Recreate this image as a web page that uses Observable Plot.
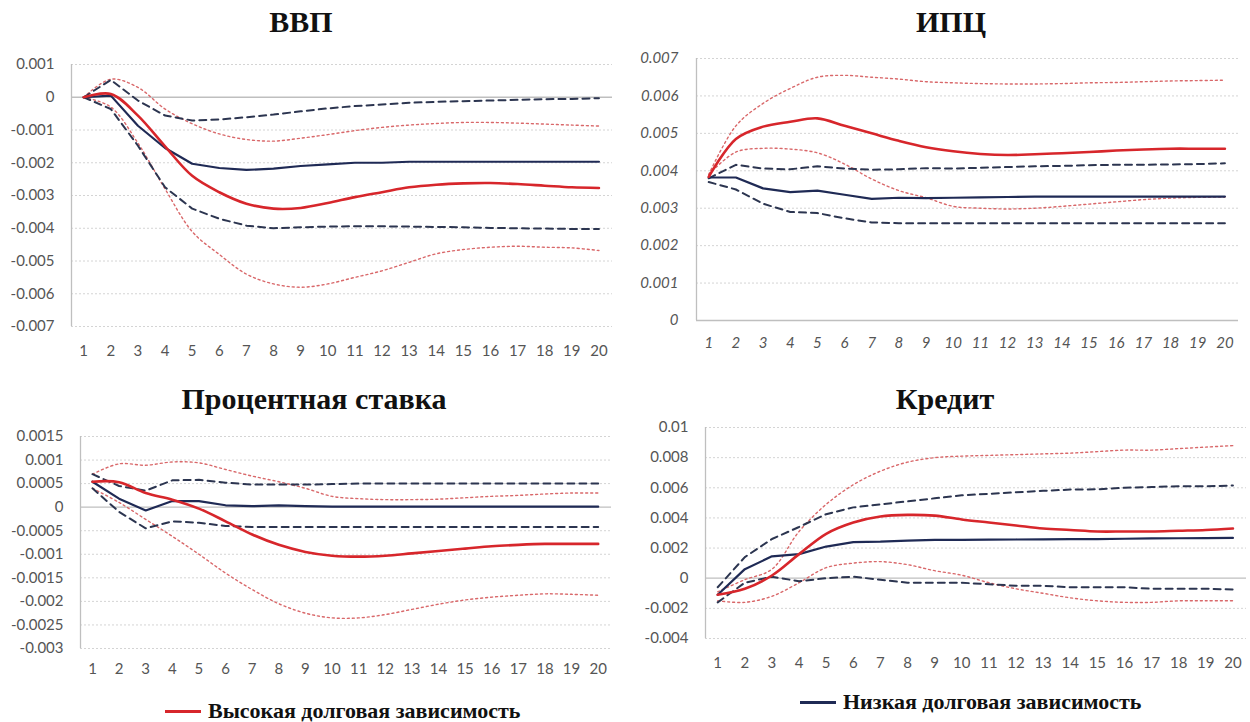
<!DOCTYPE html>
<html>
<head>
<meta charset="utf-8">
<script src="https://cdn.jsdelivr.net/npm/d3@7"></script>
<script src="https://cdn.jsdelivr.net/npm/@observablehq/plot@0.6"></script>
<style>
  html, body { margin: 0; padding: 0; background: #fff; }
  #root { position: relative; width: 1250px; height: 722px; overflow: hidden; }
  .panel { position: absolute; }
  .title { position: absolute; font-family: "Liberation Serif", serif; font-weight: bold; font-size: 30px; line-height: 1; color: #111; transform: translate(-50%, -50%); white-space: nowrap; }
  .legend { position: absolute; font-family: "Liberation Serif", serif; font-weight: bold; font-size: 22px; line-height: 1; color: #111; display: flex; align-items: center; white-space: nowrap; transform: translateY(-50%); }
  .legend .sw { display: inline-block; width: 36px; height: 3px; margin-right: 7px; }
</style>
</head>
<body>
<div id="root"></div>
<script>
// ---------- data ----------
const periods = d3.range(1, 21);

const titles = ["ВВП", "ИПЦ", "Процентная ставка", "Кредит"];
const legendLabels = ["Высокая долговая зависимость", "Низкая долговая зависимость"];

// ВВП
const gdpHigh   = [0, 0.0001, -0.00056, -0.0015, -0.0024, -0.0029, -0.00325, -0.0034, -0.00338, -0.00323, -0.00305, -0.0029, -0.00275, -0.00267, -0.00263, -0.00262, -0.00265, -0.0027, -0.00275, -0.00277];
const gdpHighUp = [0, 0.00055, 0.0003, -0.00036, -0.00081, -0.00112, -0.00129, -0.00134, -0.00125, -0.00114, -0.00102, -0.00092, -0.00085, -0.0008, -0.00077, -0.00077, -0.00079, -0.00082, -0.00085, -0.00088];
const gdpHighLo = [0, -0.0003, -0.0014, -0.0028, -0.0041, -0.0048, -0.0054, -0.0057, -0.0058, -0.0057, -0.0055, -0.0053, -0.00504, -0.00478, -0.00465, -0.00458, -0.00455, -0.00458, -0.0046, -0.00468];
const gdpLow    = [0, 0.00005, -0.00087, -0.00155, -0.00203, -0.00216, -0.00222, -0.00218, -0.0021, -0.00205, -0.002, -0.002, -0.00197, -0.00197, -0.00197, -0.00197, -0.00197, -0.00197, -0.00197, -0.00197];
const gdpLowUp  = [0, 0.00053, -0.0001, -0.00056, -0.00071, -0.00068, -0.00061, -0.00053, -0.00043, -0.00034, -0.00027, -0.00022, -0.00017, -0.00014, -0.00012, -0.0001, -0.00008, -0.00006, -0.00005, -0.00003];
const gdpLowLo  = [0, -0.00036, -0.00148, -0.00275, -0.0034, -0.00371, -0.00392, -0.004, -0.00397, -0.00395, -0.00394, -0.00394, -0.00395, -0.00396, -0.00397, -0.00399, -0.004, -0.00401, -0.00402, -0.00402];

// ИПЦ
const cpiHigh   = [0.00384, 0.00485, 0.00518, 0.00531, 0.0054, 0.0052, 0.005, 0.0048, 0.00463, 0.00452, 0.00445, 0.00442, 0.00444, 0.00447, 0.0045, 0.00454, 0.00457, 0.00459, 0.00459, 0.00459];
const cpiHighUp = [0.0039, 0.0052, 0.0058, 0.0062, 0.0065, 0.00655, 0.0065, 0.00645, 0.00638, 0.00635, 0.00633, 0.00632, 0.00632, 0.00633, 0.00635, 0.00636, 0.00638, 0.0064, 0.00641, 0.00642];
const cpiHighLo = [0.0039, 0.0045, 0.0046, 0.00458, 0.00448, 0.00418, 0.00378, 0.00347, 0.00328, 0.00305, 0.003, 0.00298, 0.003, 0.00305, 0.00311, 0.00317, 0.00323, 0.00327, 0.00329, 0.0033];
const cpiLow    = [0.00382, 0.00382, 0.00353, 0.00343, 0.00347, 0.00336, 0.00325, 0.00328, 0.00327, 0.00328, 0.00329, 0.0033, 0.00331, 0.00331, 0.00331, 0.00331, 0.00331, 0.00331, 0.00331, 0.00331];
const cpiLowUp  = [0.0038, 0.00416, 0.00406, 0.00404, 0.00412, 0.00406, 0.00403, 0.00404, 0.00407, 0.00406, 0.00408, 0.0041, 0.00412, 0.00413, 0.00415, 0.00416, 0.00416, 0.00417, 0.00418, 0.0042];
const cpiLowLo  = [0.0037, 0.0035, 0.00312, 0.0029, 0.00287, 0.00273, 0.00262, 0.0026, 0.0026, 0.0026, 0.0026, 0.0026, 0.0026, 0.0026, 0.0026, 0.0026, 0.0026, 0.0026, 0.0026, 0.0026];

// Процентная ставка
const rateHigh   = [0.00054, 0.00053, 0.0003, 0.00016, -0.00003, -0.0003, -0.00058, -0.0008, -0.00095, -0.00103, -0.00105, -0.00103, -0.00098, -0.00093, -0.00088, -0.00083, -0.0008, -0.00078, -0.00078, -0.00078];
const rateHighUp = [0.0007, 0.00092, 0.00089, 0.00096, 0.00094, 0.0008, 0.00066, 0.00054, 0.0004, 0.00023, 0.00018, 0.00016, 0.00016, 0.00017, 0.0002, 0.00023, 0.00025, 0.00028, 0.0003, 0.0003];
const rateHighLo = [0.0004, 0.0001, -0.00026, -0.00062, -0.001, -0.0014, -0.00175, -0.00205, -0.00225, -0.00235, -0.00235, -0.00228, -0.00217, -0.00206, -0.00197, -0.00191, -0.00187, -0.00184, -0.00185, -0.00187];
const rateLow    = [0.00054, 0.00018, -0.00007, 0.00013, 0.00013, 0.00004, 0.00002, 0.00004, 0.00002, 0.00001, 0.00001, 0.00001, 0.00001, 0.00001, 0.00001, 0.00001, 0.00001, 0.00001, 0.00001, 0.00001];
const rateLowUp  = [0.0007, 0.00045, 0.00035, 0.00057, 0.00058, 0.00052, 0.00048, 0.00048, 0.00048, 0.00049, 0.0005, 0.0005, 0.0005, 0.0005, 0.0005, 0.0005, 0.0005, 0.0005, 0.0005, 0.0005];
const rateLowLo  = [0.0004, -0.0001, -0.00045, -0.0003, -0.00033, -0.0004, -0.00042, -0.00042, -0.00042, -0.00042, -0.00042, -0.00042, -0.00042, -0.00042, -0.00042, -0.00042, -0.00042, -0.00042, -0.00042, -0.00042];

// Кредит
const crHigh   = [-0.0011, -0.0007, 0.00018, 0.0016, 0.00295, 0.0037, 0.0041, 0.0042, 0.00415, 0.0039, 0.0037, 0.0035, 0.0033, 0.0032, 0.0031, 0.0031, 0.0031, 0.00315, 0.0032, 0.0033];
const crHighUp = [-0.0009, -0.0001, 0.0006, 0.0031, 0.0049, 0.0062, 0.0071, 0.0077, 0.008, 0.0081, 0.00815, 0.0082, 0.00825, 0.0083, 0.0084, 0.0085, 0.0085, 0.0086, 0.0087, 0.0088];
const crHighLo = [-0.0015, -0.0016, -0.0012, -0.0003, 0.0007, 0.001, 0.0011, 0.0009, 0.0005, 0.0002, -0.0003, -0.0007, -0.001, -0.0013, -0.0015, -0.0016, -0.0016, -0.0015, -0.0015, -0.0015];
const crLow    = [-0.0011, 0.0006, 0.00145, 0.0016, 0.0021, 0.0024, 0.00243, 0.0025, 0.00254, 0.00255, 0.00256, 0.00257, 0.00258, 0.0026, 0.0026, 0.00262, 0.00264, 0.00265, 0.00266, 0.00267];
const crLowUp  = [-0.0006, 0.0014, 0.0026, 0.0034, 0.00425, 0.0047, 0.0049, 0.0051, 0.0053, 0.0055, 0.0056, 0.0057, 0.0058, 0.00588, 0.0059, 0.006, 0.00605, 0.0061, 0.0061, 0.00615];
const crLowLo  = [-0.0016, -0.0003, 0.0001, -0.0002, 0, 0.0001, -0.0001, -0.0003, -0.0003, -0.0003, -0.0004, -0.0005, -0.0005, -0.0006, -0.0006, -0.0006, -0.0007, -0.0007, -0.0007, -0.00075];

// tick labels
const gdpTicks    = [0.001, 0, -0.001, -0.002, -0.003, -0.004, -0.005, -0.006, -0.007];
const cpiTicks    = [0, 0.001, 0.002, 0.003, 0.004, 0.005, 0.006, 0.007];
const rateTicks   = [0.0015, 0.001, 0.0005, 0, -0.0005, -0.001, -0.0015, -0.002, -0.0025, -0.003];
const creditTicks = [0.01, 0.008, 0.006, 0.004, 0.002, 0, -0.002, -0.004];

// ---------- styles ----------
const RED = "#d7262b", NAVY = "#1f2a55", DASH = "#2c3550", DOT = "#d9686a";
const GRID = "#d4d4d4", AXIS = "#bfbfbf", TXT = "#555555";
const xDomain = [0.55, 20.5];

function rows(arr) { return periods.map((t, i) => ({t, v: arr[i]})); }

function panel(cfg) {
  const {series, ticks, left, top, width, height, mL, mR, mT, mB, padX, padY, italic} = cfg;
  const yDom = d3.extent(ticks);
  const [hi, hiUp, hiLo, lo, loUp, loLo] = series;
  const gridTicks = ticks.filter(d => d !== 0);
  const fmt = d => (d < 0 ? "-" : "") + String(Math.abs(d));
  const chart = Plot.plot({
    width, height,
    marginLeft: mL, marginRight: mR, marginTop: mT, marginBottom: mB,
    style: {fontFamily: "Lato, 'Open Sans', sans-serif", fontSize: "15px", color: TXT, fontStyle: italic ? "italic" : "normal", background: "transparent", overflow: "visible"},
    x: {domain: xDomain},
    y: {domain: yDom},
    marks: [
      Plot.ruleY(gridTicks, {stroke: GRID, strokeDasharray: "2,2", strokeWidth: 1}),
      Plot.ruleY([0], {stroke: AXIS, strokeWidth: 1.3}),
      Plot.ruleX([xDomain[0]], {stroke: AXIS, strokeWidth: 1.3}),
      Plot.axisX(periods, {tickSize: 0, tickPadding: padX, tickFormat: d => String(d), fontSize: 15, label: null}),
      Plot.axisY(ticks, {tickSize: 0, tickPadding: padY, tickFormat: fmt, fontSize: 15, label: null}),
      Plot.line(rows(hiUp), {x: "t", y: "v", stroke: DOT, strokeWidth: 1.4, strokeDasharray: "2,3", curve: "catmull-rom"}),
      Plot.line(rows(hiLo), {x: "t", y: "v", stroke: DOT, strokeWidth: 1.4, strokeDasharray: "2,3", curve: "catmull-rom"}),
      Plot.line(rows(loUp), {x: "t", y: "v", stroke: DASH, strokeWidth: 2, strokeDasharray: "7,5"}),
      Plot.line(rows(loLo), {x: "t", y: "v", stroke: DASH, strokeWidth: 2, strokeDasharray: "7,5"}),
      Plot.line(rows(lo), {x: "t", y: "v", stroke: NAVY, strokeWidth: 2.2}),
      Plot.line(rows(hi), {x: "t", y: "v", stroke: RED, strokeWidth: 2.6, curve: "catmull-rom"})
    ]
  });
  const div = document.createElement("div");
  div.className = "panel";
  div.style.left = left + "px";
  div.style.top = top + "px";
  div.appendChild(chart);
  document.getElementById("root").appendChild(div);
}

panel({series: [gdpHigh, gdpHighUp, gdpHighLo, gdpLow, gdpLowUp, gdpLowLo], ticks: gdpTicks,
  left: 0, top: 44, width: 620, height: 330, mL: 71, mR: 8, mT: 20, mB: 48, padX: 19, padY: 17});
panel({series: [cpiHigh, cpiHighUp, cpiHighLo, cpiLow, cpiLowUp, cpiLowLo], ticks: cpiTicks,
  left: 620, top: 40, width: 630, height: 320, mL: 76, mR: 12, mT: 18, mB: 40, padX: 17, padY: 18, italic: true});
panel({series: [rateHigh, rateHighUp, rateHighLo, rateLow, rateLowUp, rateLowLo], ticks: rateTicks,
  left: 0, top: 420, width: 620, height: 268, mL: 80, mR: 9, mT: 16, mB: 40, padX: 15, padY: 17});
panel({series: [crHigh, crHighUp, crHighLo, crLow, crLowUp, crLowLo], ticks: creditTicks,
  left: 620, top: 410, width: 630, height: 268, mL: 85, mR: 4, mT: 17, mB: 40, padX: 19, padY: 17});

// titles
const root = document.getElementById("root");
const titlePos = [[301, 22], [951, 22], [314, 399], [945, 399]];
titles.forEach((t, i) => {
  const d = document.createElement("div");
  d.className = "title";
  d.textContent = t;
  d.style.left = titlePos[i][0] + "px";
  d.style.top = titlePos[i][1] + "px";
  root.appendChild(d);
});

// legend
const legPos = [[165, 711, RED], [800, 702, NAVY]];
legendLabels.forEach((t, i) => {
  const d = document.createElement("div");
  d.className = "legend";
  d.style.left = legPos[i][0] + "px";
  d.style.top = legPos[i][1] + "px";
  const sw = document.createElement("span");
  sw.className = "sw";
  sw.style.background = legPos[i][2];
  d.appendChild(sw);
  d.appendChild(document.createTextNode(t));
  root.appendChild(d);
});
</script>
</body>
</html>
